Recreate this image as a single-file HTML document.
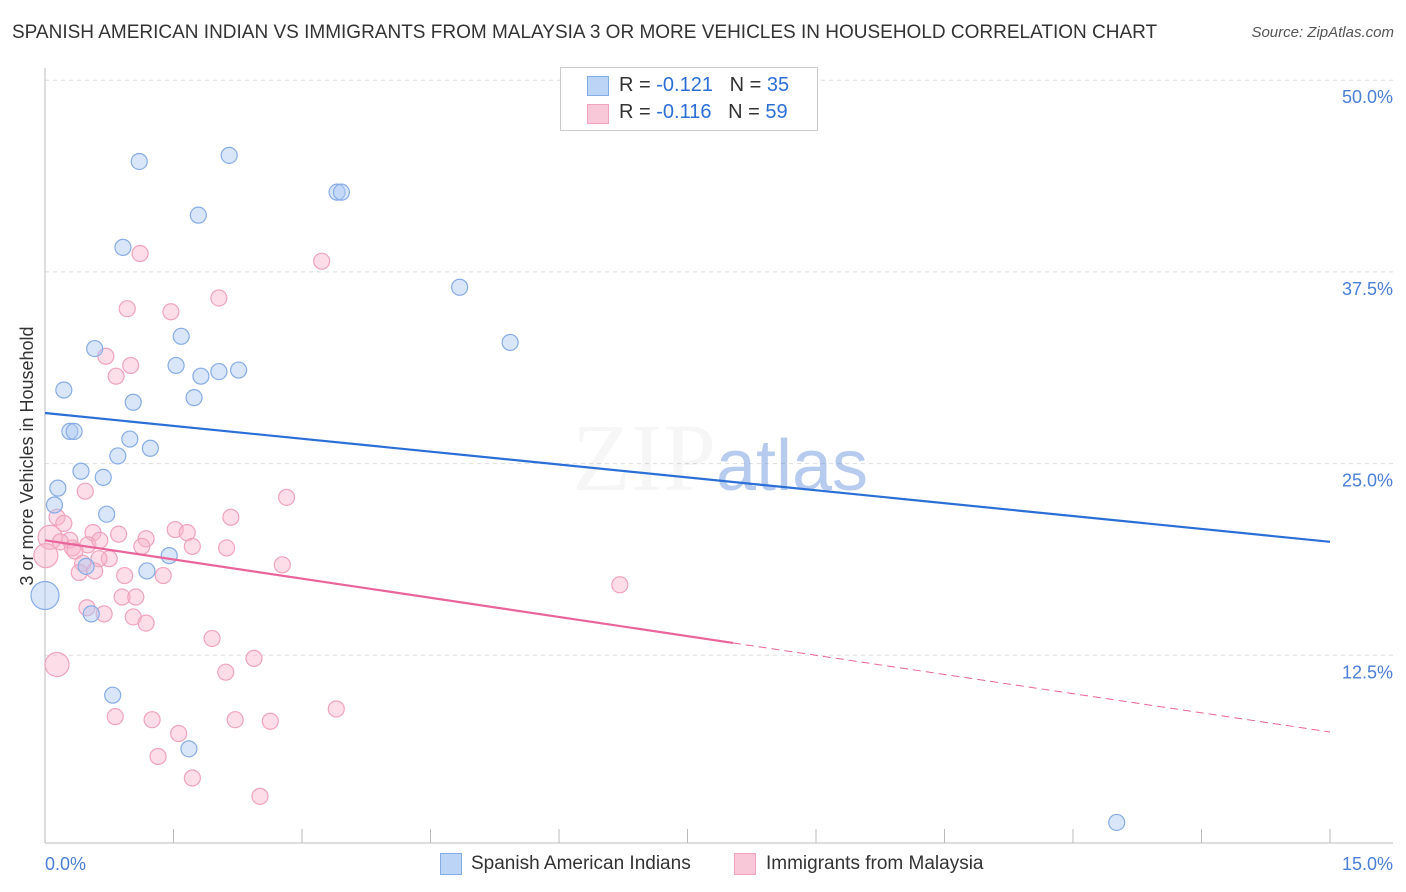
<!DOCTYPE html>
<html><head><meta charset="utf-8"><style>
body{margin:0;background:#fff;font-family:"Liberation Sans",sans-serif;}
#wrap{position:relative;width:1406px;height:892px;overflow:hidden;}
.t{position:absolute;white-space:nowrap;}
</style></head><body>
<div id="wrap">
<div class="t" style="left:12px;top:22px;font-size:19px;color:#333;">SPANISH AMERICAN INDIAN VS IMMIGRANTS FROM MALAYSIA 3 OR MORE VEHICLES IN HOUSEHOLD CORRELATION CHART</div>
<div class="t" style="right:12px;top:24px;font-size:15px;color:#555;font-style:italic;">Source: ZipAtlas.com</div>
<svg id="svg" width="1406" height="892" style="position:absolute;left:0;top:0"></svg>
</div>
<script>
const xTicks=[0,15];
const yTicks=[12.5,25,37.5,50];
const blueX=[1.10,2.15,1.79,3.41,3.46,0.91,4.84,5.43,1.59,0.58,1.53,1.82,2.03,2.26,0.22,1.03,1.74,0.29,0.34,0.99,1.23,0.85,0.42,0.68,0.15,0.11,0.72,1.45,1.19,0.48,0.0,0.54,0.79,1.68,12.51];
const blueY=[44.7,45.1,41.2,42.7,42.7,39.1,36.5,32.9,33.3,32.5,31.4,30.7,31.0,31.1,29.8,29.0,29.3,27.1,27.1,26.6,26.0,25.5,24.5,24.1,23.4,22.3,21.7,19.0,18.0,18.3,16.4,15.2,9.9,6.4,1.6];
const pinkX=[1.11,3.23,2.03,0.96,1.47,0.71,1.00,0.83,0.47,2.82,0.14,0.22,2.17,1.52,1.66,0.56,0.86,1.18,0.06,0.29,0.18,0.50,0.64,0.32,1.13,1.72,2.12,0.35,0.01,0.44,0.75,0.63,2.77,0.40,0.58,0.93,1.38,6.71,0.90,1.06,0.49,0.69,1.03,1.18,1.95,0.14,2.44,2.11,0.82,1.25,2.22,2.63,3.40,1.56,1.32,1.72,2.51];
const pinkY=[38.7,38.2,35.8,35.1,34.9,32.0,31.4,30.7,23.2,22.8,21.5,21.1,21.5,20.7,20.5,20.5,20.4,20.1,20.2,20.0,19.9,19.7,20.0,19.5,19.6,19.6,19.5,19.3,19.0,18.5,18.8,18.8,18.4,17.9,18.0,17.7,17.7,17.1,16.3,16.3,15.6,15.2,15.0,14.6,13.6,11.9,12.3,11.4,8.5,8.3,8.3,8.2,9.0,7.4,5.9,4.5,3.3];
const bigBlue=[30];
const bigPink=[18,28,45];
const blueTrend=[28.3,19.9];
const pinkTrend=[20.0,7.5];
const pinkSolidEnd=8.03;

const X0=45,X1=1330,Y0=847,PPU=15.336;
const sx=v=>X0+v*(X1-X0)/15;
const sy=v=>Y0-v*PPU;
const svg=document.getElementById('svg');
const NS='http://www.w3.org/2000/svg';
function mk(tag,at){const e=document.createElementNS(NS,tag);for(const k in at)e.setAttribute(k,at[k]);svg.appendChild(e);return e;}

yTicks.forEach(t=>{
 const g=mk('line',{x1:X0,x2:1393,y1:sy(t),y2:sy(t),stroke:'#ddd','stroke-dasharray':'4,4'});
 
 
 const l=mk('text',{x:1393,y:sy(t)+23,'text-anchor':'end','font-size':18,fill:'#4a7fd6'});
 l.textContent=t.toFixed(1)+'%';
 
 
});
const ax=mk('line',{x1:X0,x2:1393,y1:843,y2:843,stroke:'#bbb'});


const ay=mk('line',{x1:X0,x2:X0,y1:68,y2:843,stroke:'#bbb'});


for(let i=0;i<=10;i++){
 const tk=mk('line',{x1:sx(i*1.5),x2:sx(i*1.5),y1:829,y2:843,stroke:'#bbb'});
 
 
}
xTicks.forEach((t,i)=>{
 const l=mk('text',{x:i==0?X0:1393,y:870,'text-anchor':i==0?'start':'end','font-size':18,fill:'#4a7fd6'});
 l.textContent=t.toFixed(1)+'%';
 
 
});
const yt=mk('text',{x:33,y:456,'text-anchor':'middle','font-size':18,fill:'#333',transform:'rotate(-90 33 456)'});
yt.textContent='3 or more Vehicles in Household';


const wm=mk('text',{x:720,y:490,'text-anchor':'middle','font-size':96,fill:'#000','fill-opacity':0.07,'font-family':'Liberation Serif'});
wm.innerHTML='ZIP<tspan font-family="Liberation Sans" font-size="72" fill="#4a7fd6" fill-opacity="0.8">atlas</tspan>';
wm.setAttribute('opacity','0.5');



pinkX.forEach((x,i)=>{
 const c=mk('circle',{cx:sx(x),cy:sy(pinkY[i]),r:bigPink.includes(i)?12:8,fill:'rgba(248,180,204,0.45)',stroke:'#f0a3bd','stroke-width':1.2});
 
 
});
blueX.forEach((x,i)=>{
 const c=mk('circle',{cx:sx(x),cy:sy(blueY[i]),r:bigBlue.includes(i)?14:8,fill:'rgba(170,200,245,0.45)',stroke:'#86acE6','stroke-width':1.2});
 
 
});
const bt=mk('line',{x1:sx(0),y1:sy(blueTrend[0]),x2:sx(15),y2:sy(blueTrend[1]),stroke:'#2b6fd6','stroke-width':2.2});


const pAt=x=>pinkTrend[0]+(pinkTrend[1]-pinkTrend[0])*x/15;
const pt=mk('line',{x1:sx(0),y1:sy(pAt(0)),x2:sx(pinkSolidEnd),y2:sy(pAt(pinkSolidEnd)),stroke:'#e8649a','stroke-width':2.2});


const pd=mk('line',{x1:sx(pinkSolidEnd),y1:sy(pAt(pinkSolidEnd)),x2:sx(15),y2:sy(pAt(15)),stroke:'#e8649a','stroke-width':1,'stroke-dasharray':'8,5'});


</script>
<div class="t" style="left:560px;top:67px;width:256px;height:62px;border:1px solid #ccc;background:#fff;">
 <div class="t" style="left:26px;top:8px;width:20px;height:18px;background:#bcd4f6;border:1px solid #86ace6;"></div>
 <div class="t" style="left:58px;top:6px;font-size:20px;color:#333;">R = <span style="color:#2b6fd6">-0.121</span> &nbsp;&nbsp;N = <span style="color:#2b6fd6">35</span></div>
 <div class="t" style="left:26px;top:36px;width:20px;height:18px;background:#f8c8d8;border:1px solid #f0a3bd;"></div>
 <div class="t" style="left:58px;top:33px;font-size:20px;color:#333;">R = <span style="color:#2b6fd6">-0.116</span> &nbsp;&nbsp;N = <span style="color:#2b6fd6">59</span></div>
</div>
<div class="t" style="left:440px;top:853px;width:20px;height:20px;background:#bcd4f6;border:1px solid #86ace6;"></div>
<div class="t" style="left:471px;top:853px;font-size:19px;color:#333;">Spanish American Indians</div>
<div class="t" style="left:734px;top:853px;width:20px;height:20px;background:#f8c8d8;border:1px solid #f0a3bd;"></div>
<div class="t" style="left:766px;top:853px;font-size:19px;color:#333;">Immigrants from Malaysia</div>
</body></html>
